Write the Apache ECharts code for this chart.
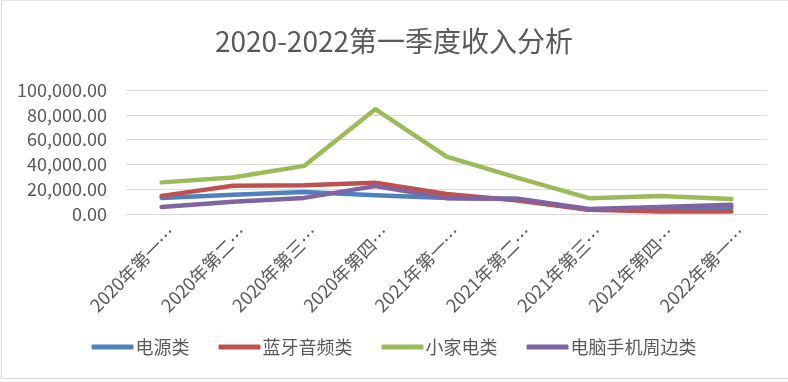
<!DOCTYPE html>
<html>
<head>
<meta charset="utf-8">
<script src="https://cdn.jsdelivr.net/npm/echarts@6/dist/echarts.min.js"></script>
<style>
html,body{margin:0;padding:0;background:#fff;}
#c{position:absolute;left:0;top:0;width:788px;height:382px;}
#frame{position:absolute;left:1px;top:0;width:800px;height:377px;border-left:1px solid #d9d9d9;border-top:1px solid #e6e6e6;border-bottom:1px solid #d9d9d9;pointer-events:none;}
</style>
</head>
<body>
<div id="c"></div>
<div id="frame"></div>
<script>
const titleText = '2020-2022第一季度收入分析';
const categories = ['2020年第一季度','2020年第二季度','2020年第三季度','2020年第四季度','2021年第一季度','2021年第二季度','2021年第三季度','2021年第四季度','2022年第一季度'];
const seriesNames = ['电源类','蓝牙音频类','小家电类','电脑手机周边类'];
const power = [13000, 15500, 17800, 15200, 13000, 12000, 3500, 4500, 5000];
const audio = [14600, 22800, 23200, 25300, 16200, 10800, 3400, 2100, 2100];
const appliance = [25500, 29500, 38800, 84500, 46300, 29200, 12800, 14500, 12000];
const peripheral = [5600, 9800, 13000, 22500, 12800, 12300, 4000, 5600, 7400];
const yMin = 0, yMax = 100000, yStep = 20000;

const colors = ['#4F81BD','#C0504D','#9BBB59','#8064A2'];
const font = '"Noto Sans CJK SC", "Noto Sans", sans-serif';
const textColor = '#595959';

const chart = echarts.init(document.getElementById('c'));
const values = [power, audio, appliance, peripheral];
chart.setOption({
  animation: false,
  color: colors,
  textStyle: {fontFamily: font},
  title: {
    text: titleText, left: 'center', top: 22,
    textStyle: {fontSize: 28, fontWeight: 'normal', color: textColor, fontFamily: font}
  },
  legend: {
    bottom: 21, left: 'center',
    icon: 'roundRect', itemWidth: 42, itemHeight: 5, itemGap: 29,
    textStyle: {fontSize: 18, color: textColor, fontFamily: font, padding: [0,0,0,-3]},
    data: seriesNames
  },
  grid: {left: 126, right: 21, top: 90, bottom: 168, containLabel: false},
  xAxis: {
    type: 'category', data: categories, boundaryGap: true,
    axisLine: {show: true, lineStyle: {color: '#d9d9d9', width: 1}},
    axisTick: {show: false},
    axisLabel: {
      interval: 0, rotate: 45, margin: 26, fontSize: 18, color: textColor, fontFamily: font,
      padding: [0, -15, 0, 0],
      formatter: v => v.slice(0, 7) + '…'
    }
  },
  yAxis: {
    type: 'value', min: yMin, max: yMax, interval: yStep,
    axisLine: {show: false}, axisTick: {show: false},
    splitLine: {lineStyle: {color: '#d9d9d9', width: 1}},
    axisLabel: {
      margin: 19, fontSize: 18, color: textColor, fontFamily: font,
      formatter: v => v.toLocaleString('en-US', {minimumFractionDigits: 2, maximumFractionDigits: 2})
    }
  },
  series: seriesNames.map((n, i) => ({
    name: n, type: 'line', data: values[i], symbol: 'none', smooth: false,
    lineStyle: {width: 4.5, cap: 'round', join: 'round'}
  }))
});
</script>
</body>
</html>
